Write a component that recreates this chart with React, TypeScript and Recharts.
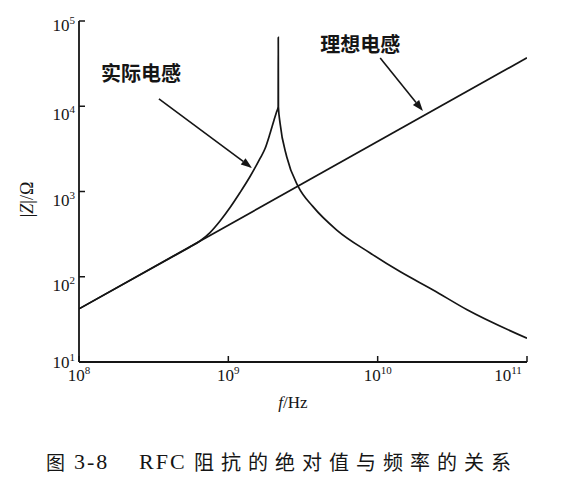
import React from 'react';
import { LineChart, Line, XAxis, YAxis, ReferenceLine, Label } from 'recharts';

// ideal inductor: straight line on log-log axes
const idealFreq = [1e8, 1e11];
const idealZ = [42, 37000];

// real inductor: self resonance near 2.16 GHz
const realFreq = [
  1e8, 4e8, 5.54e8, 6.46e8, 7.54e8, 8.8e8, 1.027e9, 1.198e9, 1.398e9, 1.631e9, 1.762e9,
  1.902e9, 2.024e9, 2.103e9, 2.156e9,
  2.16e9,
  2.165e9, 2.22e9, 2.46e9, 2.94e9, 3.69e9, 5.32e9, 8.9e9, 1.41e10, 2.35e10, 3.97e10, 1e11,
];
const realZ = [
  42, 163, 223, 263, 330, 451, 649, 973, 1500, 2440, 3190,
  4790, 6900, 8570, 9800,
  64400,
  9800, 6350, 2560, 1140, 664, 353, 190, 115, 70, 41, 19,
];

const xTicks = [1e8, 1e9, 1e10, 1e11];
const yTicks = [10, 100, 1000, 10000, 100000];

const realLabel = '实际电感';
const idealLabel = '理想电感';
const realArrow = [{ x: 3.43e8, y: 12200 }, { x: 1.44e9, y: 1890 }];
const idealArrow = [{ x: 1.04e10, y: 36800 }, { x: 2.01e10, y: 8800 }];

const xLabel = 'Hz';
const captionFig = '图';
const captionNum = '3-8';
const captionRfc = 'RFC';
const captionText = '阻抗的绝对值与频率的关系';

const idealData = idealFreq.map((f, i) => ({ f, z: idealZ[i] }));
const realData = realFreq.map((f, i) => ({ f, z: realZ[i] }));

const serif = '"Liberation Serif", "DejaVu Serif", serif';
const cjk = '"Noto Sans CJK SC", sans-serif';
const ink = '#151515';

const exp = (v: number) => Math.round(Math.log10(v));

const XTick = ({ x, y, payload }: any) => (
  <text x={x} y={y + 17} textAnchor="middle" fontFamily={serif} fontSize={17} fill={ink}>
    <tspan>10</tspan>
    <tspan dy={-7} fontSize={11}>{exp(payload.value)}</tspan>
  </text>
);

// end labels are nudged inward so they don't collide at the corners
const YTick = ({ x, y, payload }: any) => {
  const e = exp(payload.value);
  const off = e === 1 ? 6 : e === 5 ? 10 : 14;
  return (
    <text x={x} y={y + off} textAnchor="end" fontFamily={serif} fontSize={17} fill={ink}>
      <tspan>10</tspan>
      <tspan dy={-7} fontSize={11}>{e}</tspan>
    </text>
  );
};

const arrowShape = (text: string, dx: number, dy: number) => (props: any) => {
  const { x1, y1, x2, y2 } = props;
  const a = Math.atan2(y2 - y1, x2 - x1);
  const len = 11;
  const w = 4;
  const bx = x2 - len * Math.cos(a);
  const by = y2 - len * Math.sin(a);
  const px = -Math.sin(a) * w;
  const py = Math.cos(a) * w;
  return (
    <g>
      <line x1={x1} y1={y1} x2={bx} y2={by} stroke={ink} strokeWidth={1.6} />
      <polygon points={`${x2},${y2} ${bx + px},${by + py} ${bx - px},${by - py}`} fill={ink} />
      <text
        x={x1 + dx}
        y={y1 + dy}
        textAnchor="middle"
        dominantBaseline="central"
        fontFamily={cjk}
        fontWeight={700}
        fontSize={20}
        fill={ink}
      >
        {text}
      </text>
    </g>
  );
};

const capStyle: React.CSSProperties = {
  position: 'absolute',
  top: 442,
  lineHeight: '24px',
  whiteSpace: 'pre',
  color: ink,
};

export default function App() {
  return (
    <div style={{ position: 'relative', width: 548, height: 478, background: '#fff' }}>
      <LineChart width={548} height={410} margin={{ top: 13, right: 29, bottom: 0, left: 0 }}>
        <XAxis
          type="number"
          dataKey="f"
          scale="log"
          domain={[1e8, 1e11]}
          ticks={xTicks}
          allowDataOverflow
          height={56}
          tickSize={-6}
          tickMargin={8}
          tick={<XTick />}
          axisLine={{ stroke: ink, strokeWidth: 1.8 }}
          tickLine={{ stroke: ink, strokeWidth: 1.5 }}
        >
          <Label
            content={({ viewBox }: any) => (
              <text
                x={viewBox.x + viewBox.width / 2 - 10}
                y={viewBox.y + 46}
                textAnchor="middle"
                fontFamily={serif}
                fontSize={17}
                fill={ink}
              >
                <tspan fontStyle="italic">f</tspan>
                <tspan>/{xLabel}</tspan>
              </text>
            )}
          />
        </XAxis>
        <XAxis
          xAxisId="top"
          orientation="top"
          type="number"
          scale="log"
          domain={[1e8, 1e11]}
          ticks={xTicks}
          allowDataOverflow
          height={0}
          tickSize={-6}
          tick={false}
          axisLine={{ stroke: ink, strokeWidth: 1.8 }}
          tickLine={{ stroke: ink, strokeWidth: 1.5 }}
        />
        <YAxis
          type="number"
          dataKey="z"
          scale="log"
          domain={[10, 1e5]}
          ticks={yTicks}
          allowDataOverflow
          width={71}
          tickSize={-6}
          tickMargin={10}
          tick={<YTick />}
          axisLine={{ stroke: ink, strokeWidth: 1.8 }}
          tickLine={{ stroke: ink, strokeWidth: 1.5 }}
        >
          <Label
            content={({ viewBox }: any) => (
              <text
                x={19}
                y={viewBox.y + viewBox.height / 2 + 8}
                transform={`rotate(-90 19 ${viewBox.y + viewBox.height / 2 + 8})`}
                textAnchor="middle"
                dominantBaseline="central"
                fontFamily={serif}
                fontSize={18}
                fill={ink}
              >
                <tspan>|</tspan>
                <tspan fontStyle="italic">Z</tspan>
                <tspan>|/Ω</tspan>
              </text>
            )}
          />
        </YAxis>
        <YAxis
          yAxisId="right"
          orientation="right"
          type="number"
          scale="log"
          domain={[10, 1e5]}
          ticks={yTicks}
          allowDataOverflow
          width={0}
          tickSize={-6}
          tick={false}
          axisLine={{ stroke: ink, strokeWidth: 1.8 }}
          tickLine={{ stroke: ink, strokeWidth: 1.5 }}
        />
        <Line
          data={idealData}
          dataKey="z"
          type="linear"
          stroke={ink}
          strokeWidth={1.7}
          dot={false}
          isAnimationActive={false}
        />
        <Line
          data={realData}
          dataKey="z"
          type="monotoneX"
          stroke={ink}
          strokeWidth={1.7}
          dot={false}
          isAnimationActive={false}
        />
        <ReferenceLine segment={realArrow} shape={arrowShape(realLabel, -18, -26)} />
        <ReferenceLine segment={idealArrow} shape={arrowShape(idealLabel, -20, -15)} />
      </LineChart>
      <span style={{ ...capStyle, left: 38, fontFamily: cjk, fontSize: 19 }}>{captionFig}</span>
      <span style={{ ...capStyle, left: 66, fontFamily: serif, fontSize: 22, letterSpacing: 2 }}>
        {captionNum}
      </span>
      <span style={{ ...capStyle, left: 131, fontFamily: serif, fontSize: 22, letterSpacing: 2 }}>
        {captionRfc}
      </span>
      <span style={{ ...capStyle, left: 186, fontFamily: cjk, fontSize: 20, letterSpacing: 7 }}>
        {captionText}
      </span>
    </div>
  );
}
